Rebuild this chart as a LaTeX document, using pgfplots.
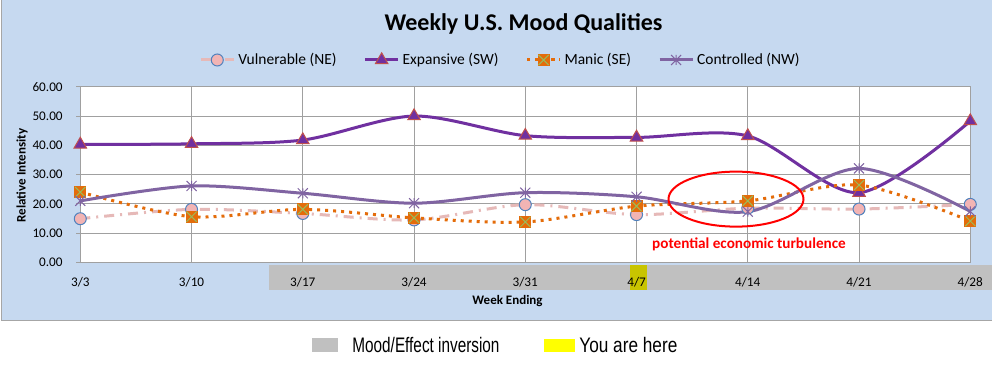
\documentclass[border=0pt]{standalone}
\usepackage{pgfplots}
\pgfplotsset{compat=1.18}
\usepackage{fontspec}
\setmainfont{Carlito}
\newfontfamily\arialfont{Liberation Sans}
\definecolor{bgblue}{RGB}{198,217,240}
\definecolor{bandgray}{RGB}{192,192,192}
\definecolor{youhere}{RGB}{200,196,0}
\definecolor{yellowleg}{RGB}{255,255,0}
\definecolor{vulline}{RGB}{230,185,184}
\definecolor{vulfill}{RGB}{242,180,180}
\definecolor{vuledge}{RGB}{79,129,189}
\definecolor{expline}{RGB}{112,48,160}
\definecolor{expedge}{RGB}{192,80,77}
\definecolor{manic}{RGB}{228,108,10}
\definecolor{mgreen}{RGB}{155,187,89}
\definecolor{ctrl}{RGB}{128,100,162}
\definecolor{gridgray}{RGB}{160,160,160}
\pgfdeclareplotmark{xstar}{%
  \pgfpathmoveto{\pgfqpoint{-\pgfplotmarksize}{-\pgfplotmarksize}}%
  \pgfpathlineto{\pgfqpoint{\pgfplotmarksize}{\pgfplotmarksize}}%
  \pgfpathmoveto{\pgfqpoint{-\pgfplotmarksize}{\pgfplotmarksize}}%
  \pgfpathlineto{\pgfqpoint{\pgfplotmarksize}{-\pgfplotmarksize}}%
  \pgfpathmoveto{\pgfqpoint{0pt}{-\pgfplotmarksize}}%
  \pgfpathlineto{\pgfqpoint{0pt}{\pgfplotmarksize}}%
  \pgfusepathqstroke}
\pgfdeclareplotmark{sqx}{%
  \pgfpathrectangle{\pgfqpoint{-\pgfplotmarksize}{-\pgfplotmarksize}}{\pgfqpoint{2\pgfplotmarksize}{2\pgfplotmarksize}}%
  \pgfsetfillcolor{manic}\pgfusepathqfill
  \pgfsetstrokecolor{mgreen}\pgfsetlinewidth{0.5pt}%
  \pgfpathmoveto{\pgfqpoint{-0.85\pgfplotmarksize}{-0.85\pgfplotmarksize}}%
  \pgfpathlineto{\pgfqpoint{0.85\pgfplotmarksize}{0.85\pgfplotmarksize}}%
  \pgfpathmoveto{\pgfqpoint{-0.85\pgfplotmarksize}{0.85\pgfplotmarksize}}%
  \pgfpathlineto{\pgfqpoint{0.85\pgfplotmarksize}{-0.85\pgfplotmarksize}}%
  \pgfusepathqstroke}
\begin{document}
\begin{tikzpicture}
\useasboundingbox (0,0) rectangle (496pt,-185pt);
\begin{scope}[x=0.5pt,y=-0.5pt]
  \fill[white] (0,0) rectangle (992,370);
  \fill[bgblue] (1.5,0) rectangle (992,320);
  \draw[gray!70,line width=0.5pt] (1.5,0) -- (1.5,320) -- (992,320);
  \fill[bandgray] (269,265) rectangle (992,290);
  \fill[youhere] (630,265) rectangle (647,290);
  \node[font=\bfseries\fontsize{12}{14}\selectfont] at (523.5,24) {Weekly U.S. Mood Qualities};
  \node[font=\bfseries\fontsize{6.5}{8}\selectfont,rotate=90] at (22,175.5) {Relative Intensity};
  \node[font=\bfseries\fontsize{6.5}{8}\selectfont] at (507.5,301.5) {Week Ending};
  % bottom legend
  \fill[bandgray] (312,338) rectangle (338,352);
  \node[anchor=west,inner sep=0pt,font=\arialfont\fontsize{10.5}{12}\selectfont] at (352,345) {\scalebox{0.73}[1]{Mood/Effect inversion}};
  \fill[yellowleg] (544,339) rectangle (575,352);
  \node[anchor=west,inner sep=0pt,font=\arialfont\fontsize{10.5}{12}\selectfont] at (579,345) {\scalebox{0.82}[1]{You are here}};
\end{scope}
\begin{axis}[
  at={(40.15pt,-131.15pt)}, anchor=south west,
  scale only axis, width=445pt, height=87.75pt,
  xmin=0, xmax=8, ymin=0, ymax=60,
  xtick={0,...,8},
  xticklabels={3/3,3/10,3/17,3/24,3/31,4/7,4/14,4/21,4/28},
  ytick={0,10,...,60},
  yticklabel style={/pgf/number format/fixed,/pgf/number format/fixed zerofill,/pgf/number format/precision=2,/pgf/number format/assume math mode=true},
  ticklabel style={font=\fontsize{6.6}{8}\selectfont},
  xticklabel style={yshift=-1.8pt},
  yticklabel style={xshift=-3.3pt},
  tick align=outside, ytick pos=left, xtick pos=bottom,
  major tick length=2pt,
  major x tick style={draw=none},
  major y tick style={gridgray, line width=0.5pt},
  grid=major,
  major grid style={gridgray, line width=0.5pt},
  axis line style={gridgray, line width=0.5pt},
  axis background/.style={fill=white},
  clip=false,
  legend columns=4,
  legend style={at={(0.4727,1.1527)}, anchor=center, draw=none, fill=none,
    font=\fontsize{7.75}{9}\selectfont,
    /tikz/every even column/.append style={column sep=12pt},
    nodes={inner sep=1.5pt}},
  legend image code/.code={
    \draw[mark repeat=2,mark phase=2] plot coordinates {(0cm,0cm) (0.29cm,0cm) (0.58cm,0cm)};},
]
\addplot[smooth, color=vulline, line width=1.5pt, dash pattern=on 5pt off 3pt on 1pt off 3pt,
  mark=*, mark size=3pt, mark options={solid, fill=vulfill, draw=vuledge, line width=0.5pt}]
  coordinates {(0,14.9) (1,18.1) (2,16.7) (3,14.5) (4,19.7) (5,16.3) (6,18.5) (7,18.2) (8,19.8)};
\addlegendentry{Vulnerable (NE)}
\addplot[smooth, color=expline, line width=1.5pt,
  mark=triangle*, mark size=3.6pt, mark options={solid, fill=expline, draw=expedge, line width=0.5pt}]
  coordinates {(0,40.3) (1,40.5) (2,41.8) (3,50.0) (4,43.3) (5,42.7) (6,43.2) (7,23.8) (8,48.3)};
\addlegendentry{Expansive (SW)}
\addplot[smooth, color=manic, line width=1.5pt, dash pattern=on 1.5pt off 2.5pt,
  mark=sqx, mark size=3pt, mark options={solid}]
  coordinates {(0,24.0) (1,15.6) (2,18.1) (3,15.2) (4,13.8) (5,19.2) (6,21.0) (7,26.4) (8,14.1)};
\addlegendentry{Manic (SE)}
\addplot[smooth, color=ctrl, line width=1.5pt,
  mark=xstar, mark size=2.5pt, mark options={solid, draw=ctrl, line width=0.5pt}]
  coordinates {(0,21.0) (1,26.1) (2,23.6) (3,20.2) (4,23.8) (5,22.4) (6,17.3) (7,32.1) (8,17.4)};
\addlegendentry{Controlled (NW)}
\draw[red, line width=1pt] (axis cs:5.894,21.6) ellipse [x radius=33.75pt, y radius=13.75pt];
\node[red, font=\bfseries\fontsize{7.6}{9}\selectfont] at (axis cs:6.011,6.26) {potential economic turbulence};
\end{axis}
\end{tikzpicture}
\end{document}
